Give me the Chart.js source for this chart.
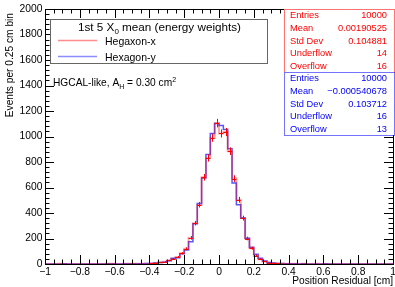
<!DOCTYPE html>
<html>
<head>
<meta charset="utf-8">
<script src="https://cdn.jsdelivr.net/npm/chart.js@4.4.1/dist/chart.umd.min.js"></script>
<style>
  html, body { margin: 0; padding: 0; background: #fff; }
  #wrap { width: 395px; height: 287px; }
</style>
</head>
<body>
<div id="wrap"><canvas id="resChart" width="395" height="287"></canvas></div>
<script>
// histogram binning
const xMin = -1, xMax = 1, binWidth = 0.025;

// Hegaxon-x (red, with error bars), 80 bins of 0.025 cm
const hexX = [
  0, 0, 0, 1, 0, 0, 0, 0, 0, 0,
  0, 0, 0, 0, 1, 1, 0, 0, 1, 1,
  1, 1, 2, 2, 4, 7, 12, 18, 28, 40,
  55, 84, 120, 205, 320, 465, 680, 832, 990, 1105,
  1024, 1035, 885, 670, 504, 360, 200, 124, 65, 38,
  20, 10, 6, 4, 2, 2, 1, 1, 0, 1,
  0, 0, 1, 0, 0, 0, 0, 0, 0, 0,
  0, 0, 0, 0, 0, 0, 0, 0, 0, 0
];
// Hexagon-y (blue)
const hexY = [
  0, 0, 0, 0, 1, 0, 0, 0, 0, 0,
  0, 0, 0, 0, 1, 1, 0, 0, 1, 1,
  1, 2, 1, 3, 4, 8, 11, 14, 25, 45,
  50, 80, 110, 175, 315, 475, 675, 858, 1024, 1102,
  1087, 1055, 903, 635, 465, 360, 202, 131, 76, 45,
  24, 11, 7, 4, 3, 2, 1, 1, 0, 1,
  0, 0, 0, 0, 1, 0, 0, 0, 0, 0,
  0, 0, 0, 0, 0, 0, 0, 0, 0, 0
];

// axis ticks
const xTickValues = [-1, -0.8, -0.6, -0.4, -0.2, 0, 0.2, 0.4, 0.6, 0.8, 1];
const xTickLabels = ['\u22121', '\u22120.8', '\u22120.6', '\u22120.4', '\u22120.2', '0', '0.2', '0.4', '0.6', '0.8', '1'];
const yTickValues = [0, 200, 400, 600, 800, 1000, 1200, 1400, 1600, 1800, 2000];
const xMinorStep = 0.05, yMinorStep = 40;

// stats boxes
const statNames = ['Entries', 'Mean', 'Std Dev', 'Underflow', 'Overflow'];
const statsX = ['10000', '0.00190525', '0.104881', '14', '16'];
const statsY = ['10000', '\u22120.000540678', '0.103712', '16', '13'];

const FONT = '"Liberation Sans", Arial, Helvetica, sans-serif';

// points at the lower bin edge, plus a closing point at xMax
function toSteps(counts) {
  const pts = counts.map((c, i) => ({ x: xMin + i * binWidth, y: c }));
  pts.push({ x: xMax, y: counts[counts.length - 1] });
  return pts;
}

function drawRich(ctx, parts, x, y) {
  // parts: [text, size, dy]
  let cx = x;
  parts.forEach(([t, size, dy]) => {
    ctx.font = size + 'px ' + FONT;
    ctx.fillText(t, cx, y + dy);
    cx += ctx.measureText(t).width;
  });
  return cx - x;
}

const rootStyle = {
  id: 'rootStyle',
  afterDatasetsDraw(chart) {
    const { ctx, chartArea: a, scales: { x, y } } = chart;
    ctx.save();

    // red error bars
    ctx.strokeStyle = '#ff0000';
    ctx.lineWidth = 1;
    hexX.forEach((c, i) => {
      if (!c) return;
      const lo = x.getPixelForValue(xMin + i * binWidth);
      const hi = x.getPixelForValue(xMin + (i + 1) * binWidth);
      const mid = Math.round((lo + hi) / 2) + 0.5;
      const yc = Math.round(y.getPixelForValue(c)) + 0.5;
      const e = Math.sqrt(c);
      ctx.beginPath();
      ctx.moveTo(lo, yc); ctx.lineTo(hi, yc);
      ctx.moveTo(mid, y.getPixelForValue(c + e));
      ctx.lineTo(mid, y.getPixelForValue(Math.max(0, c - e)));
      ctx.stroke();
    });

    // frame
    ctx.strokeStyle = '#000';
    ctx.lineWidth = 1;
    ctx.strokeRect(a.left + 0.5, a.top + 0.5, a.right - a.left, a.bottom - a.top);

    // ticks, inward on all four sides
    ctx.beginPath();
    for (let v = xMin; v <= xMax + 1e-9; v += xMinorStep) {
      const px = Math.round(x.getPixelForValue(v)) + 0.5;
      const major = xTickValues.some(t => Math.abs(t - v) < 1e-6);
      const len = major ? 9 : 4.5;
      ctx.moveTo(px, a.bottom); ctx.lineTo(px, a.bottom - len);
      ctx.moveTo(px, a.top); ctx.lineTo(px, a.top + len);
    }
    for (let v = 0; v <= 2000 + 1e-9; v += yMinorStep) {
      const py = Math.round(y.getPixelForValue(v)) + 0.5;
      const major = yTickValues.includes(Math.round(v));
      const len = major ? 9 : 4.5;
      ctx.moveTo(a.left, py); ctx.lineTo(a.left + len, py);
      ctx.moveTo(a.right, py); ctx.lineTo(a.right - len, py);
    }
    ctx.stroke();

    // tick labels
    ctx.fillStyle = '#000';
    ctx.font = '10.3px ' + FONT;
    ctx.textBaseline = 'middle';
    ctx.textAlign = 'center';
    xTickValues.forEach((v, i) => ctx.fillText(xTickLabels[i], x.getPixelForValue(v), 272.5));
    ctx.textAlign = 'right';
    yTickValues.forEach(v => ctx.fillText(String(v), 42.5, y.getPixelForValue(v)));

    // axis titles
    ctx.textBaseline = 'alphabetic';
    ctx.font = '10.2px ' + FONT;
    ctx.textAlign = 'right';
    ctx.fillText('Position Residual [cm]', 393, 284);
    ctx.save();
    ctx.translate(12.5, 13);
    ctx.rotate(-Math.PI / 2);
    ctx.fillText('Events per 0.25 cm bin', 0, 0);
    ctx.restore();

    // legend box
    ctx.fillStyle = '#fff';
    ctx.fillRect(50, 19, 217, 44);
    ctx.strokeStyle = '#666';
    ctx.strokeRect(50.5, 19.5, 217, 44);
    ctx.fillStyle = '#000';
    ctx.textAlign = 'left';
    const title = [['1st 5 X', 11.7, 0], ['0', 8, 2.5], [' mean (energy weights)', 11.7, 0]];
    let tw = 0;
    title.forEach(([t, s]) => { ctx.font = s + 'px ' + FONT; tw += ctx.measureText(t).width; });
    drawRich(ctx, title, 159.5 - tw / 2, 31);
    ctx.lineWidth = 1.5;
    ctx.strokeStyle = 'rgba(255,0,0,0.45)';
    ctx.beginPath(); ctx.moveTo(58, 40.5); ctx.lineTo(97, 40.5); ctx.stroke();
    ctx.strokeStyle = 'rgba(0,0,255,0.45)';
    ctx.beginPath(); ctx.moveTo(58, 56.5); ctx.lineTo(97, 56.5); ctx.stroke();
    ctx.font = '10.5px ' + FONT;
    ctx.fillText('Hegaxon-x', 105, 44.5);
    ctx.fillText('Hexagon-y', 105, 60.5);

    // annotation
    drawRich(ctx, [['HGCAL-like, A', 10.2, 0], ['H', 7, 2.5], [' = 0.30 cm', 10.2, 0], ['2', 7, -4]], 53, 86);

    // stats boxes
    const boxes = [
      { vals: statsX, top: 9, col: '#ff0000', edge: 'rgba(255,0,0,0.55)' },
      { vals: statsY, top: 72, col: '#0000ff', edge: 'rgba(0,0,255,0.55)' }
    ];
    ctx.lineWidth = 1;
    boxes.forEach(b => {
      ctx.fillStyle = '#fff';
      ctx.fillRect(284, b.top, 110, 63);
      ctx.strokeStyle = b.edge;
      ctx.strokeRect(284.5, b.top + 0.5, 110, 63);
      ctx.fillStyle = b.col;
      ctx.font = '9.3px ' + FONT;
      ctx.textBaseline = 'middle';
      statNames.forEach((n, i) => {
        const cy = b.top + 6.8 + i * 12.6;
        ctx.textAlign = 'left';
        ctx.fillText(n, 290, cy);
        ctx.textAlign = 'right';
        ctx.fillText(b.vals[i], 387, cy);
      });
    });

    ctx.restore();
  }
};

new Chart(document.getElementById('resChart'), {
  type: 'line',
  data: {
    datasets: [
      {
        label: 'Hegaxon-x',
        data: toSteps(hexX),
        stepped: 'before',
        borderColor: 'rgba(255,0,0,0.35)',
        borderWidth: 2,
        pointRadius: 0,
        fill: false
      },
      {
        label: 'Hexagon-y',
        data: toSteps(hexY),
        stepped: 'before',
        borderColor: 'rgba(30,30,255,0.75)',
        borderWidth: 1.5,
        pointRadius: 0,
        fill: false,
        clip: 2
      }
    ]
  },
  options: {
    responsive: false,
    animation: false,
    events: [],
    layout: { padding: { left: 45, right: 2, top: 9, bottom: 23 } },
    plugins: { legend: { display: false }, tooltip: { enabled: false } },
    scales: {
      x: { type: 'linear', min: xMin, max: xMax, display: false },
      y: { type: 'linear', min: 0, max: 2000, display: false }
    }
  },
  plugins: [rootStyle]
});
</script>
</body>
</html>
